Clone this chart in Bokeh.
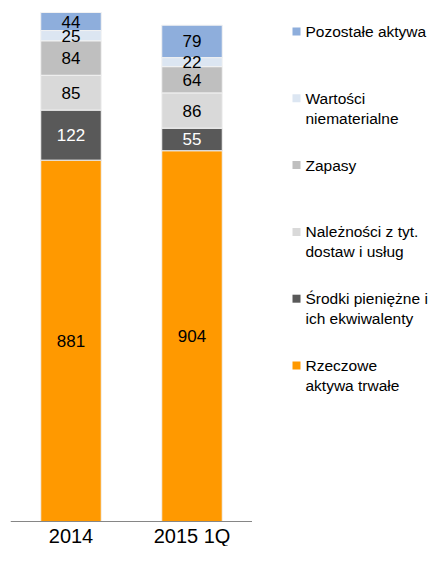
from bokeh.plotting import figure
from bokeh.layouts import row
from bokeh.models import ColumnDataSource, FactorRange, Range1d, Span
from bokeh.core.properties import value
from bokeh.embed import file_html
from bokeh.resources import INLINE

# ---- data ----
periods = ["2014", "2015 1Q"]
series_keys = ["rzeczowe", "srodki", "naleznosci", "zapasy", "wartosci", "pozostale"]
legend_lines = [
    ["Rzeczowe", "aktywa trwałe"],
    ["Środki pieniężne i", "ich ekwiwalenty"],
    ["Należności z tyt.", "dostaw i usług"],
    ["Zapasy"],
    ["Wartości", "niematerialne"],
    ["Pozostałe aktywa"],
]
rzeczowe = [881, 904]
srodki = [122, 55]
naleznosci = [85, 86]
zapasy = [84, 64]
wartosci = [25, 22]
pozostale = [44, 79]

colors = ["#FF9900", "#595959", "#D9D9D9", "#BFBFBF", "#DCE6F2", "#8EAEDC"]
label_colors = ["black", "white", "black", "black", "black", "black"]
FONT = "Liberation Sans"

values = [rzeczowe, srodki, naleznosci, zapasy, wartosci, pozostale]
data = {"period": periods}
for k, v in zip(series_keys, values):
    data[k] = v
src = ColumnDataSource(data)

# ---- layout constants (pixels) ----
H = 546
BASE_PX = 521      # baseline pixel row
TOP_PX = 12        # top of tallest bar
LABEL_PX = 535     # vertical middle of category labels
tallest = max(sum(col) for col in zip(*values))
scale = (BASE_PX - TOP_PX) / tallest
y_top = tallest + TOP_PX / scale
y_bot = -(H - BASE_PX) / scale
label_y = -(LABEL_PX - BASE_PX) / scale

# ---- main chart ----
p = figure(x_range=FactorRange(factors=periods, range_padding=0),
           y_range=Range1d(y_bot, y_top),
           width=252, height=H,
           x_axis_location=None, y_axis_location=None,
           min_border_left=10, min_border_right=0, min_border_top=0, min_border_bottom=0,
           output_backend="svg", toolbar_location=None)
p.xgrid.visible = False
p.ygrid.visible = False
p.outline_line_color = None

p.vbar_stack(series_keys, x="period", width=0.5, color=colors, source=src,
             line_color="#F2F2F2", line_width=1)

bottoms = [0, 0]
for vals, lc in zip(values, label_colors):
    mids = [b + v / 2 for b, v in zip(bottoms, vals)]
    p.text(x=periods, y=mids, text=[str(v) for v in vals],
           text_align="center", text_baseline="middle",
           text_font=value(FONT), text_font_size="17px", text_color=lc)
    bottoms = [b + v for b, v in zip(bottoms, vals)]

p.add_layout(Span(location=0, dimension="width", line_color="#868686", line_width=1))
p.text(x=periods, y=[label_y] * len(periods), text=periods,
       text_align="center", text_baseline="middle",
       text_font=value(FONT), text_font_size="20px", text_color="black")

# ---- legend panel ----
LW = 428 - 252
lg = figure(width=LW, height=H, x_range=Range1d(0, LW), y_range=Range1d(H, 0),
            x_axis_location=None, y_axis_location=None,
            min_border=0, output_backend="svg", toolbar_location=None)
lg.xgrid.visible = False
lg.ygrid.visible = False
lg.outline_line_color = None

top_y = 31
step = 66.8
line_h = 20
sq_x = 296 - 252
tx_x = 305 - 252
order = list(range(len(series_keys)))[::-1]
for i, idx in enumerate(order):
    y0 = top_y + i * step
    lg.scatter(x=[sq_x], y=[y0], marker="square", size=8, color=colors[idx], line_color=None)
    for j, line in enumerate(legend_lines[idx]):
        lg.text(x=[tx_x], y=[y0 + j * line_h], text=[line],
                text_align="left", text_baseline="middle",
                text_font=value(FONT), text_font_size="15.5px", text_color="black")

layout = row(p, lg, spacing=0)
open("out.html", "w").write(file_html(layout, INLINE))
